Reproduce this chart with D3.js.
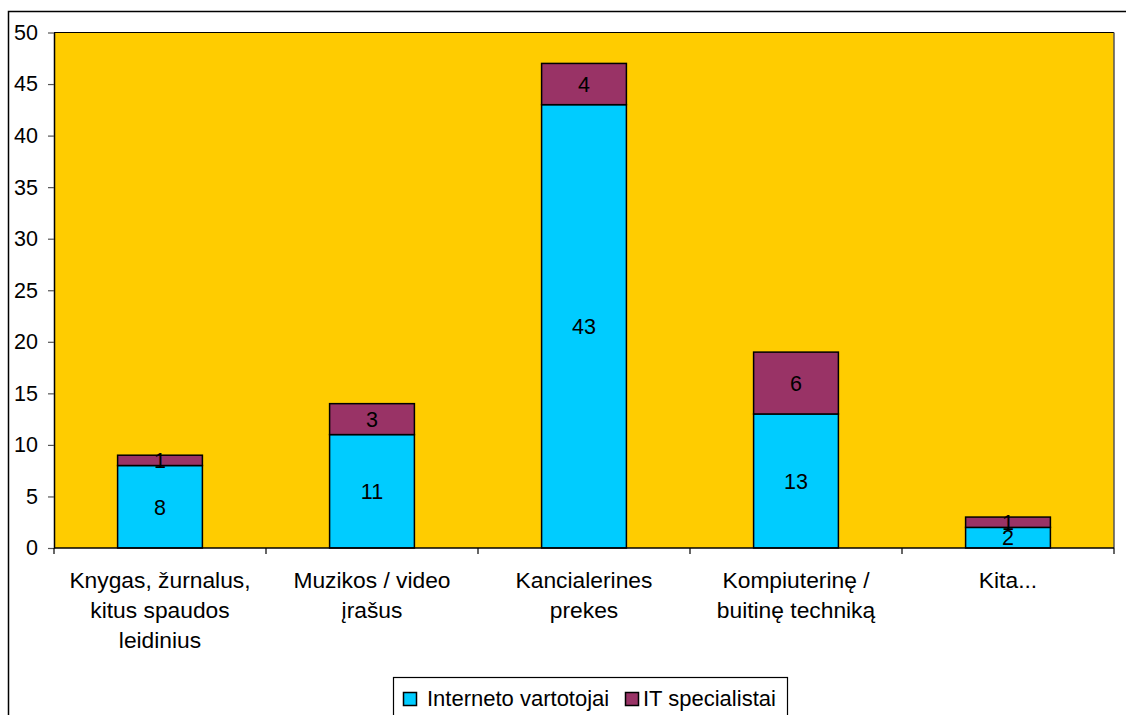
<!DOCTYPE html>
<html>
<head>
<meta charset="utf-8">
<script src="https://cdn.jsdelivr.net/npm/d3@7"></script>
<style>
  html, body { margin: 0; padding: 0; background: #fff; }
  svg { display: block; font-family: "Liberation Sans", Arial, sans-serif; }
</style>
</head>
<body>
<svg id="chart" width="1126" height="715"></svg>
<script>
// Purchase categories and counts per respondent group (stacked)
const categories = [
  ["Knygas, žurnalus,", "kitus spaudos", "leidinius"],
  ["Muzikos / video", "įrašus"],
  ["Kancialerines", "prekes"],
  ["Kompiuterinę /", "buitinę techniką"],
  ["Kita..."]
];
const internetUsers = [8, 11, 43, 13, 2];
const itSpecialists = [1, 3, 4, 6, 1];
const seriesNames = ["Interneto vartotojai", "IT specialistai"];
const yTicks = [0, 5, 10, 15, 20, 25, 30, 35, 40, 45, 50];

const colors = ["#00CCFF", "#993366"];
const svg = d3.select("#chart");

const plot = { left: 54, right: 1114, top: 32.5, bottom: 548 };

// outer chart frame
svg.append("rect")
  .attr("x", 8.5).attr("y", 11.5)
  .attr("width", 1130).attr("height", 720)
  .attr("fill", "#fff").attr("stroke", "#000").attr("stroke-width", 1.5);

// plot area background
svg.append("rect")
  .attr("x", plot.left).attr("y", plot.top)
  .attr("width", plot.right - plot.left).attr("height", plot.bottom - plot.top)
  .attr("fill", "#FFCC00");
svg.append("line")
  .attr("x1", plot.left).attr("x2", plot.right)
  .attr("y1", plot.top).attr("y2", plot.top)
  .attr("stroke", "#000").attr("stroke-width", 1.2);
svg.append("line")
  .attr("x1", plot.right).attr("x2", plot.right)
  .attr("y1", plot.top).attr("y2", plot.bottom)
  .attr("stroke", "#555").attr("stroke-width", 1.5);

const idx = d3.range(categories.length);
const x = d3.scaleBand()
  .domain(idx)
  .range([plot.left, plot.right])
  .paddingInner(0.6)
  .paddingOuter(0.3);
const y = d3.scaleLinear().domain([0, 50]).range([plot.bottom, plot.top]);

const stackData = idx.map(i => ({ i, a: internetUsers[i], b: itSpecialists[i] }));
const stacked = d3.stack().keys(["a", "b"])(stackData);

stacked.forEach((layer, k) => {
  const g = svg.append("g");
  g.selectAll("rect").data(layer).join("rect")
    .attr("x", d => x(d.data.i))
    .attr("width", x.bandwidth())
    .attr("y", d => y(d[1]))
    .attr("height", d => y(d[0]) - y(d[1]))
    .attr("fill", colors[k])
    .attr("stroke", "#000").attr("stroke-width", 1.5);
  g.selectAll("text").data(layer).join("text")
    .attr("x", d => x(d.data.i) + x.bandwidth() / 2)
    .attr("y", d => y((d[0] + d[1]) / 2))
    .attr("dy", "0.36em")
    .attr("text-anchor", "middle")
    .attr("font-size", 21.5)
    .attr("fill", "#000")
    .text(d => d[1] - d[0]);
});

// y axis
const yAxis = svg.append("g")
  .attr("transform", `translate(${plot.left},0)`)
  .call(d3.axisLeft(y).tickValues(yTicks).tickSize(6).tickPadding(10).tickSizeOuter(0));
yAxis.select(".domain").attr("stroke", "#000").attr("stroke-width", 1.5);
yAxis.selectAll(".tick line").attr("stroke", "#555").attr("stroke-width", 1.2);
yAxis.selectAll(".tick text")
  .attr("font-size", 21.5).attr("fill", "#000")
  .attr("font-family", "'Liberation Sans', Arial, sans-serif");

// x axis with ticks at category boundaries
const boundaries = idx.map(i => plot.left + i * x.step());
boundaries.push(plot.right);
const xAxis = svg.append("g");
xAxis.append("line")
  .attr("x1", plot.left).attr("x2", plot.right)
  .attr("y1", plot.bottom).attr("y2", plot.bottom)
  .attr("stroke", "#000").attr("stroke-width", 1.5);
xAxis.selectAll("line.tk").data(boundaries).join("line")
  .attr("class", "tk")
  .attr("x1", d => d).attr("x2", d => d)
  .attr("y1", plot.bottom).attr("y2", plot.bottom + 6)
  .attr("stroke", "#000").attr("stroke-width", 1.2);

// category labels (multi-line)
idx.forEach(i => {
  const t = svg.append("text")
    .attr("text-anchor", "middle")
    .attr("font-size", 22.8)
    .attr("fill", "#000");
  categories[i].forEach((line, j) => {
    t.append("tspan")
      .attr("x", x(i) + x.bandwidth() / 2)
      .attr("y", 588 + j * 30)
      .text(line);
  });
});

// legend
const legend = svg.append("g");
legend.append("rect")
  .attr("x", 393.5).attr("y", 677.5)
  .attr("width", 394).attr("height", 60)
  .attr("fill", "#fff").attr("stroke", "#000").attr("stroke-width", 1.2);
const legendItems = [
  { name: seriesNames[0], color: colors[0], sx: 403, tx: 427 },
  { name: seriesNames[1], color: colors[1], sx: 625, tx: 643 }
];
legendItems.forEach(it => {
  legend.append("rect")
    .attr("x", it.sx + 0.5).attr("y", 692.5)
    .attr("width", 13).attr("height", 13)
    .attr("fill", it.color).attr("stroke", "#000").attr("stroke-width", 1.5);
  legend.append("text")
    .attr("x", it.tx).attr("y", 706)
    .attr("font-size", 22).attr("fill", "#000")
    .text(it.name);
});
</script>
</body>
</html>
